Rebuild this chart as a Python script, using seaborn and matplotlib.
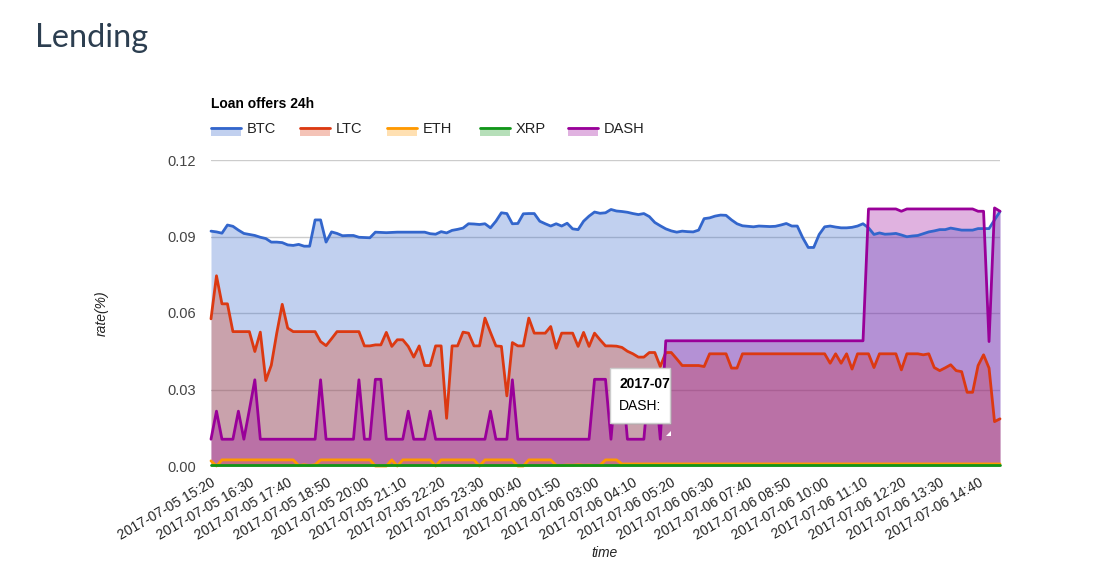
import pandas as pd
import seaborn as sns
import matplotlib.pyplot as plt
from matplotlib.patches import Rectangle, Polygon
from matplotlib.lines import Line2D

# Loan offers, one sample every 10 minutes starting here
start = "2017-07-05 15:20"
coins = ["BTC", "LTC", "ETH", "XRP", "DASH"]
colors = ["#3366cc", "#dc3912", "#ff9900", "#109618", "#990099"]
y_ticks = [0.00, 0.03, 0.06, 0.09, 0.12]

btc = [
    0.0921, 0.0918, 0.0913, 0.0945, 0.0940, 0.0925, 0.0912, 0.0908, 0.0904, 0.0897,
    0.0892, 0.0878, 0.0878, 0.0876, 0.0867, 0.0865, 0.0869, 0.0862, 0.0862, 0.0965,
    0.0965, 0.0878, 0.0918, 0.0912, 0.0903, 0.0904, 0.0904, 0.0897, 0.0896, 0.0895,
    0.0917, 0.0916, 0.0915, 0.0916, 0.0917, 0.0917, 0.0917, 0.0917, 0.0917, 0.0917,
    0.0911, 0.0909, 0.0919, 0.0914, 0.0924, 0.0928, 0.0933, 0.0950, 0.0949, 0.0947,
    0.0950, 0.0934, 0.0960, 0.0993, 0.0990, 0.0950, 0.0951, 0.0989, 0.0990, 0.0990,
    0.0960, 0.0950, 0.0941, 0.0950, 0.0941, 0.0952, 0.0930, 0.0927, 0.0960, 0.0980,
    0.0996, 0.0991, 0.0993, 0.1006, 0.1000, 0.0998, 0.0995, 0.0990, 0.0986, 0.0990,
    0.0978, 0.0955, 0.0942, 0.0930, 0.0922, 0.0917, 0.0921, 0.0919, 0.0918, 0.0925,
    0.0970, 0.0973, 0.0980, 0.0984, 0.0983, 0.0965, 0.0950, 0.0942, 0.0940, 0.0938,
    0.0941, 0.0940, 0.0939, 0.0940, 0.0945, 0.0951, 0.0941, 0.0941, 0.0895, 0.0857,
    0.0857, 0.0908, 0.0938, 0.0941, 0.0937, 0.0934, 0.0934, 0.0936, 0.0941, 0.0950,
    0.0934, 0.0908, 0.0914, 0.0909, 0.0910, 0.0912, 0.0906, 0.0899, 0.0902, 0.0904,
    0.0911, 0.0918, 0.0922, 0.0927, 0.0927, 0.0933, 0.0929, 0.0925, 0.0925, 0.0925,
    0.0931, 0.0931, 0.0931, 0.0965, 0.0998,
]

ltc = [
    0.0577, 0.0746, 0.0636, 0.0636, 0.0527, 0.0527, 0.0527, 0.0527, 0.0449, 0.0525,
    0.0335, 0.0395, 0.0521, 0.0634, 0.0541, 0.0527, 0.0527, 0.0527, 0.0527, 0.0527,
    0.0488, 0.0472, 0.0499, 0.0527, 0.0527, 0.0527, 0.0527, 0.0527, 0.0471, 0.0471,
    0.0475, 0.0475, 0.0524, 0.0469, 0.0495, 0.0495, 0.0469, 0.0427, 0.0471, 0.0394,
    0.0394, 0.0471, 0.0471, 0.0187, 0.0471, 0.0471, 0.0525, 0.0521, 0.0471, 0.0471,
    0.0580, 0.0524, 0.0471, 0.0469, 0.0275, 0.0484, 0.0471, 0.0471, 0.0580, 0.0521,
    0.0521, 0.0521, 0.0547, 0.0462, 0.0521, 0.0521, 0.0521, 0.0469, 0.0524, 0.0469,
    0.0521, 0.0495, 0.0471, 0.0471, 0.0470, 0.0465, 0.0450, 0.0440, 0.0427, 0.0427,
    0.0445, 0.0445, 0.0390, 0.0445, 0.0445, 0.0420, 0.0394, 0.0394, 0.0394, 0.0394,
    0.0390, 0.0440, 0.0440, 0.0440, 0.0440, 0.0384, 0.0384, 0.0440, 0.0440, 0.0440,
    0.0440, 0.0440, 0.0440, 0.0440, 0.0440, 0.0440, 0.0440, 0.0440, 0.0440, 0.0440,
    0.0440, 0.0440, 0.0440, 0.0403, 0.0440, 0.0403, 0.0440, 0.0380, 0.0440, 0.0440,
    0.0440, 0.0386, 0.0440, 0.0440, 0.0440, 0.0440, 0.0377, 0.0440, 0.0440, 0.0440,
    0.0436, 0.0440, 0.0386, 0.0374, 0.0385, 0.0397, 0.0374, 0.0370, 0.0289, 0.0289,
    0.0394, 0.0436, 0.0384, 0.0174, 0.0185,
]

eth = [
    0.0020, 0.0000, 0.0024, 0.0024, 0.0024, 0.0024, 0.0024, 0.0024, 0.0024, 0.0024,
    0.0024, 0.0024, 0.0024, 0.0024, 0.0024, 0.0024, 0.0002, 0.0005, 0.0002, 0.0005,
    0.0024, 0.0024, 0.0024, 0.0024, 0.0024, 0.0024, 0.0024, 0.0024, 0.0024, 0.0024,
    0.0000, 0.0000, 0.0000, 0.0024, 0.0000, 0.0024, 0.0024, 0.0024, 0.0024, 0.0024,
    0.0024, 0.0000, 0.0024, 0.0024, 0.0024, 0.0024, 0.0024, 0.0024, 0.0024, 0.0000,
    0.0024, 0.0024, 0.0024, 0.0024, 0.0024, 0.0024, 0.0000, 0.0000, 0.0024, 0.0024,
    0.0024, 0.0024, 0.0024, 0.0003, 0.0002, 0.0004, 0.0003, 0.0005, 0.0003, 0.0004,
    0.0002, 0.0003, 0.0024, 0.0024, 0.0024, 0.0008, 0.0008, 0.0008, 0.0008, 0.0008,
    0.0008, 0.0008, 0.0008, 0.0008, 0.0008, 0.0008, 0.0008, 0.0008, 0.0008, 0.0008,
    0.0008, 0.0008, 0.0008, 0.0008, 0.0008, 0.0008, 0.0008, 0.0008, 0.0008, 0.0008,
    0.0008, 0.0008, 0.0008, 0.0008, 0.0008, 0.0008, 0.0008, 0.0008, 0.0008, 0.0008,
    0.0008, 0.0008, 0.0008, 0.0008, 0.0008, 0.0008, 0.0008, 0.0008, 0.0008, 0.0008,
    0.0008, 0.0008, 0.0008, 0.0008, 0.0008, 0.0008, 0.0008, 0.0008, 0.0008, 0.0008,
    0.0008, 0.0008, 0.0008, 0.0008, 0.0008, 0.0008, 0.0008, 0.0008, 0.0008, 0.0008,
    0.0008, 0.0008, 0.0008, 0.0008, 0.0008,
]

xrp = [
    0.0002, 0.0002, 0.0002, 0.0002, 0.0002, 0.0002, 0.0002, 0.0002, 0.0002, 0.0002,
    0.0002, 0.0002, 0.0002, 0.0002, 0.0002, 0.0002, 0.0002, 0.0002, 0.0002, 0.0002,
    0.0002, 0.0002, 0.0002, 0.0002, 0.0002, 0.0002, 0.0002, 0.0002, 0.0002, 0.0002,
    0.0002, 0.0002, 0.0002, 0.0002, 0.0002, 0.0002, 0.0002, 0.0002, 0.0002, 0.0002,
    0.0002, 0.0002, 0.0002, 0.0002, 0.0002, 0.0002, 0.0002, 0.0002, 0.0002, 0.0002,
    0.0002, 0.0002, 0.0002, 0.0002, 0.0002, 0.0002, 0.0002, 0.0002, 0.0002, 0.0002,
    0.0002, 0.0002, 0.0002, 0.0002, 0.0002, 0.0002, 0.0002, 0.0002, 0.0002, 0.0002,
    0.0002, 0.0002, 0.0002, 0.0002, 0.0002, 0.0002, 0.0002, 0.0002, 0.0002, 0.0002,
    0.0002, 0.0002, 0.0002, 0.0002, 0.0002, 0.0002, 0.0002, 0.0002, 0.0002, 0.0002,
    0.0002, 0.0002, 0.0002, 0.0002, 0.0002, 0.0002, 0.0002, 0.0002, 0.0002, 0.0002,
    0.0002, 0.0002, 0.0002, 0.0002, 0.0002, 0.0002, 0.0002, 0.0002, 0.0002, 0.0002,
    0.0002, 0.0002, 0.0002, 0.0002, 0.0002, 0.0002, 0.0002, 0.0002, 0.0002, 0.0002,
    0.0002, 0.0002, 0.0002, 0.0002, 0.0002, 0.0002, 0.0002, 0.0002, 0.0002, 0.0002,
    0.0002, 0.0002, 0.0002, 0.0002, 0.0002, 0.0002, 0.0002, 0.0002, 0.0002, 0.0002,
    0.0002, 0.0002, 0.0002, 0.0002, 0.0002,
]

dash = [
    0.0105, 0.0215, 0.0105, 0.0105, 0.0105, 0.0215, 0.0105, 0.0220, 0.0338, 0.0105,
    0.0105, 0.0105, 0.0105, 0.0105, 0.0105, 0.0105, 0.0105, 0.0105, 0.0105, 0.0105,
    0.0338, 0.0105, 0.0105, 0.0105, 0.0105, 0.0105, 0.0105, 0.0338, 0.0105, 0.0105,
    0.0340, 0.0340, 0.0105, 0.0105, 0.0105, 0.0105, 0.0215, 0.0105, 0.0105, 0.0105,
    0.0215, 0.0105, 0.0105, 0.0105, 0.0105, 0.0105, 0.0105, 0.0105, 0.0105, 0.0105,
    0.0105, 0.0215, 0.0105, 0.0105, 0.0105, 0.0338, 0.0105, 0.0105, 0.0105, 0.0105,
    0.0105, 0.0105, 0.0105, 0.0105, 0.0105, 0.0105, 0.0105, 0.0105, 0.0105, 0.0105,
    0.0340, 0.0340, 0.0340, 0.0105, 0.0350, 0.0350, 0.0105, 0.0105, 0.0105, 0.0105,
    0.0350, 0.0350, 0.0105, 0.0491, 0.0491, 0.0491, 0.0491, 0.0491, 0.0491, 0.0491,
    0.0491, 0.0491, 0.0491, 0.0491, 0.0491, 0.0491, 0.0491, 0.0491, 0.0491, 0.0491,
    0.0491, 0.0491, 0.0491, 0.0491, 0.0491, 0.0491, 0.0491, 0.0491, 0.0491, 0.0491,
    0.0491, 0.0491, 0.0491, 0.0491, 0.0491, 0.0491, 0.0491, 0.0491, 0.0491, 0.0491,
    0.1008, 0.1008, 0.1008, 0.1008, 0.1008, 0.1008, 0.0999, 0.1008, 0.1008, 0.1008,
    0.1008, 0.1008, 0.1008, 0.1008, 0.1008, 0.1008, 0.1008, 0.1008, 0.1008, 0.1008,
    0.0999, 0.0999, 0.0488, 0.1012, 0.0999,
]

times = pd.date_range(start, periods=len(btc), freq="10min")
df = pd.DataFrame({"time": times, "BTC": btc, "LTC": ltc, "ETH": eth,
                   "XRP": xrp, "DASH": dash})

sns.set_theme(style="white")
plt.rcParams["font.family"] = ["Liberation Sans", "DejaVu Sans"]

W, H = 1100, 584
fs = 10
fig = plt.figure(figsize=(W / 100, H / 100), dpi=100)


def fx(x):
    return x / W


def fy(y):
    return 1 - y / H


ax = fig.add_axes([fx(211), fy(466), (1000 - 211) / W, (466 - 160) / H])

# area + line per series, in Google Charts order
for coin, c in zip(coins, colors):
    ax.fill_between(df["time"], 0, df[coin], color=c, alpha=0.3, lw=0)
    sns.lineplot(data=df, x="time", y=coin, color=c, linewidth=2, ax=ax)
for ln in ax.lines:
    ln.set_clip_on(False)

ax.set_xlim(times[0], times[-1])
ax.set_ylim(0, 0.12)
ax.set_yticks(y_ticks)
ax.set_yticklabels([f"{v:.2f}" for v in y_ticks], fontsize=fs + 0.5, color="#444444")
ax.yaxis.grid(True, color="#cccccc", lw=1)
ax.xaxis.grid(False)
ax.set_axisbelow(True)
for s in ax.spines.values():
    s.set_visible(False)

tick_times = times[::7]
ax.set_xticks(tick_times)
ax.set_xticklabels([t.strftime("%Y-%m-%d %H:%M") for t in tick_times],
                   rotation=30, ha="right", rotation_mode="anchor",
                   fontsize=fs, color="#222222")
ax.tick_params(axis="x", length=0, pad=7)
ax.tick_params(axis="y", length=0, pad=11)
ax.set_xlabel("")
ax.set_ylabel("")

fig.text(fx(102), fy(313), "rate(%)", rotation=90, style="italic",
         ha="center", va="center", fontsize=fs, color="#222222")
fig.text(fx(605), fy(553), "time", style="italic",
         ha="center", va="center", fontsize=fs, color="#222222")

# page + chart titles
fig.text(fx(35), fy(38), "Lending", fontsize=23.5, color="#2c3e50",
         ha="left", va="center", family=["Lato", "DejaVu Sans"])
fig.text(fx(211), fy(104), "Loan offers 24h", fontsize=fs, weight="bold",
         ha="left", va="center", color="#000000")

# legend drawn by hand (line on top of a pale swatch)
legend_x = [211, 300, 387, 480, 568]
for x, coin, c in zip(legend_x, coins, colors):
    fig.patches.append(Rectangle((fx(x), fy(136)), 30 / W, 9 / H,
                                 transform=fig.transFigure, color=c,
                                 alpha=0.3, lw=0))
    fig.lines.append(Line2D([fx(x), fx(x + 30)], [fy(128), fy(128)],
                            transform=fig.transFigure, color=c, lw=2))
    fig.text(fx(x + 36), fy(129), coin, fontsize=fs + 0.5, color="#222222",
             ha="left", va="center")

# hover tooltip caught in the screenshot
fig.patches.append(Rectangle((fx(612), fy(425)), 60 / W, 55 / H,
                             transform=fig.transFigure, facecolor="#999999",
                             alpha=0.35, lw=0, zorder=9))
fig.patches.append(Rectangle((fx(610), fy(423)), 60 / W, 55 / H,
                             transform=fig.transFigure, facecolor="white",
                             edgecolor="#cccccc", lw=1, zorder=10))
fig.patches.append(Polygon([(fx(666), fy(436)), (fx(671), fy(436)), (fx(671), fy(431))],
                           closed=True, transform=fig.transFigure,
                           facecolor="white", lw=0, zorder=10))
fig.text(fx(619), fy(384), "2017-07", fontsize=fs, weight="bold",
         ha="left", va="center", color="#000000", zorder=11)
fig.text(fx(619), fy(406), "DASH:", fontsize=fs,
         ha="left", va="center", color="#000000", zorder=11)

fig.savefig("out.png", dpi=100, facecolor="white")
